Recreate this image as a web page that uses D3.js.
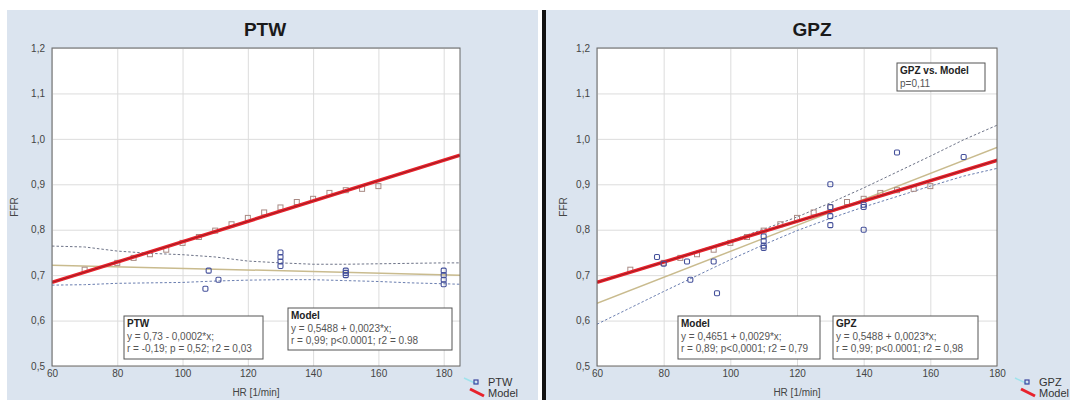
<!DOCTYPE html>
<html>
<head>
<meta charset="utf-8">
<script src="https://cdn.jsdelivr.net/npm/d3@7"></script>
<style>
  body { margin: 0; background: #fff; }
  text { font-family: "Liberation Sans", Arial, sans-serif; }
</style>
</head>
<body>
<div id="svgContainer"></div>
<script>
// model points (same set on both panels)
var modelHR = [70, 80, 85, 90, 95, 100, 105, 110, 115, 120, 125, 130, 135, 140, 145, 150, 155, 160];
var modelFFR = [0.712, 0.727, 0.738, 0.746, 0.756, 0.771, 0.784, 0.798, 0.812, 0.826, 0.838, 0.849, 0.861, 0.868, 0.881, 0.887, 0.890, 0.896];
var modelLineHR = [60, 185];
var modelLineFFR = [0.684, 0.964];

// PTW panel
var ptwHR = [108, 107, 111, 130, 130, 130, 130, 150, 150, 150, 180, 180, 180, 180];
var ptwFFR = [0.71, 0.67, 0.69, 0.72, 0.73, 0.74, 0.75, 0.70, 0.705, 0.71, 0.68, 0.69, 0.70, 0.71];
var ptwFitHR = [60, 185];
var ptwFitFFR = [0.722, 0.700];
var ptwBandHR = [60, 70, 80, 90, 100, 110, 120, 130, 140, 150, 160, 170, 180, 185];
var ptwUpper = [0.764, 0.762, 0.753, 0.748, 0.745, 0.740, 0.731, 0.727, 0.724, 0.724, 0.725, 0.726, 0.727, 0.727];
var ptwLower = [0.678, 0.679, 0.682, 0.683, 0.684, 0.687, 0.689, 0.690, 0.690, 0.688, 0.686, 0.683, 0.681, 0.680];

// GPZ panel
var gpzHR = [78, 80, 87, 88, 95, 96, 110, 110, 110, 110, 130, 130, 130, 130, 140, 140, 140, 150, 170];
var gpzFFR = [0.74, 0.725, 0.73, 0.69, 0.73, 0.66, 0.76, 0.765, 0.775, 0.785, 0.90, 0.85, 0.83, 0.81, 0.85, 0.855, 0.80, 0.97, 0.96];
var gpzFitHR = [60, 180];
var gpzFitFFR = [0.638, 0.981];
var gpzBandHR = [60, 70, 80, 90, 100, 110, 120, 130, 140, 150, 160, 170, 180];
var gpzUpper = [0.686, 0.708, 0.730, 0.753, 0.776, 0.801, 0.828, 0.859, 0.892, 0.927, 0.962, 0.998, 1.030];
var gpzLower = [0.592, 0.628, 0.664, 0.699, 0.734, 0.767, 0.798, 0.825, 0.850, 0.873, 0.896, 0.918, 0.935];

var hrTicks = [60, 80, 100, 120, 140, 160, 180];
var ffrTicks = [0.5, 0.6, 0.7, 0.8, 0.9, 1.0, 1.1, 1.2];

var ptwNotes = [
  ["PTW", "y = 0,73 - 0,0002*x;", "r = -0,19; p = 0,52; r2 = 0,03"],
  ["Model", "y = 0,5488 + 0,0023*x;", "r = 0,99; p<0.0001; r2 = 0.98"]
];
var gpzNotes = [
  ["Model", "y = 0,4651 + 0,0029*x;", "r = 0,89; p<0,0001; r2 = 0,79"],
  ["GPZ", "y = 0,5488 + 0,0023*x;", "r = 0,99; p<0.0001; r2 = 0,98"],
  ["GPZ vs. Model", "p=0,11"]
];

var width = 1070;
var height = 400;
var svg = d3.select("#svgContainer")
  .append("svg").attr("width", width).attr("height", height);

var pl = d3.formatLocale({decimal: ",", thousands: " ", grouping: [3], currency: ["", ""]});
var fmt = pl.format(".1f");

// backgrounds and divider
svg.append("rect").attr("x", 7).attr("y", 10).attr("width", 531).attr("height", 390).attr("fill", "#dbe4ef");
svg.append("rect").attr("x", 546).attr("y", 10).attr("width", 524).attr("height", 390).attr("fill", "#dbe4ef");
svg.append("rect").attr("x", 542).attr("y", 10).attr("width", 4).attr("height", 390).attr("fill", "#111");

drawPanel(svg, {
  id: "p1", title: "PTW", titleX: 265, left: 52, right: 460, xMax: 185, ffrX: 18,
  pts: [ptwHR, ptwFFR], fit: [ptwFitHR, ptwFitFFR],
  band: [ptwBandHR, ptwUpper, ptwLower],
  notes: [{n: ptwNotes[0], x: 124, y: 316, w: 139, h: 43}, {n: ptwNotes[1], x: 288, y: 308, w: 164, h: 42}],
  legendX: 462, legendName: "PTW"
});

drawPanel(svg, {
  id: "p2", title: "GPZ", titleX: 812, left: 597, right: 997, xMax: 180, ffrX: 567,
  pts: [gpzHR, gpzFFR], fit: [gpzFitHR, gpzFitFFR],
  band: [gpzBandHR, gpzUpper, gpzLower],
  notes: [{n: gpzNotes[0], x: 678, y: 316, w: 142, h: 43}, {n: gpzNotes[1], x: 833, y: 316, w: 145, h: 43},
          {n: gpzNotes[2], x: 897, y: 63, w: 88, h: 28}],
  legendX: 1013, legendName: "GPZ"
});

function drawPanel(svg, o) {
  var top = 48, bottom = 366;
  var x = d3.scaleLinear().domain([60, o.xMax]).range([o.left, o.right]);
  var y = d3.scaleLinear().domain([0.5, 1.2]).range([bottom, top]);
  var g = svg.append("g");

  g.append("clipPath").attr("id", "clip" + o.id)
    .append("rect").attr("x", o.left).attr("y", top).attr("width", o.right - o.left).attr("height", bottom - top);

  g.append("rect").attr("x", o.left).attr("y", top).attr("width", o.right - o.left).attr("height", bottom - top)
    .attr("fill", "#fff");

  // grid
  g.append("g").attr("transform", "translate(0," + bottom + ")")
    .call(d3.axisBottom(x).tickValues(hrTicks).tickSize(-(bottom - top)).tickFormat(""))
    .call(function(a) { a.select(".domain").remove(); a.selectAll("line").attr("stroke", "#dcdcdc"); });
  g.append("g").attr("transform", "translate(" + o.left + ",0)")
    .call(d3.axisLeft(y).tickValues(ffrTicks).tickSize(-(o.right - o.left)).tickFormat(""))
    .call(function(a) { a.select(".domain").remove(); a.selectAll("line").attr("stroke", "#dcdcdc"); });

  // tick labels
  g.append("g").attr("transform", "translate(0," + bottom + ")")
    .call(d3.axisBottom(x).tickValues(hrTicks).tickSize(0).tickPadding(4))
    .call(function(a) {
      a.select(".domain").remove();
      a.selectAll("text").attr("fill", "#444").style("font-size", "10px");
    });
  g.append("g").attr("transform", "translate(" + o.left + ",0)")
    .call(d3.axisLeft(y).tickValues(ffrTicks).tickSize(0).tickPadding(7).tickFormat(fmt))
    .call(function(a) {
      a.select(".domain").remove();
      a.selectAll("text").attr("fill", "#444").style("font-size", "10px");
    });

  var plot = g.append("g").attr("clip-path", "url(#clip" + o.id + ")");
  var ln = d3.line().x(function(d) { return x(d[0]); }).y(function(d) { return y(d[1]); });

  // confidence band
  var up = d3.zip(o.band[0], o.band[1]);
  var lo = d3.zip(o.band[0], o.band[2]);
  plot.append("path").attr("d", ln(up)).attr("fill", "none").attr("stroke", "#6e7488")
    .attr("stroke-width", 1).attr("stroke-dasharray", "2.5,2");
  plot.append("path").attr("d", ln(lo)).attr("fill", "none").attr("stroke", "#6a7eb0")
    .attr("stroke-width", 1).attr("stroke-dasharray", "2.5,2");

  // fit line of the measured group
  plot.append("path").attr("d", ln(d3.zip(o.fit[0], o.fit[1]))).attr("fill", "none")
    .attr("stroke", "#c9bb8e").attr("stroke-width", 1.5);

  // model points
  plot.selectAll(".mp").data(d3.zip(modelHR, modelFFR)).enter().append("rect")
    .attr("x", function(d) { return x(d[0]) - 2.5; })
    .attr("y", function(d) { return y(d[1]) - 2.5; })
    .attr("width", 5).attr("height", 5)
    .attr("fill", "none").attr("stroke", "#a88a84").attr("stroke-width", 1);

  // model line
  var ml = ln(d3.zip(modelLineHR, modelLineFFR));
  plot.append("path").attr("d", ml).attr("fill", "none").attr("stroke", "#e8222c").attr("stroke-width", 3.5);
  plot.append("path").attr("d", ml).attr("fill", "none").attr("stroke", "#8a1c20").attr("stroke-width", 0.8);

  // measured points
  plot.selectAll(".gp").data(d3.zip(o.pts[0], o.pts[1])).enter().append("rect")
    .attr("x", function(d) { return x(d[0]) - 2.5; })
    .attr("y", function(d) { return y(d[1]) - 2.5; })
    .attr("width", 5).attr("height", 5).attr("rx", 1.2)
    .attr("fill", "none").attr("stroke", "#44509a").attr("stroke-width", 1.1);

  // border
  g.append("rect").attr("x", o.left).attr("y", top).attr("width", o.right - o.left).attr("height", bottom - top)
    .attr("fill", "none").attr("stroke", "#666").attr("stroke-width", 1);

  // title & axis titles
  g.append("text").attr("x", o.titleX).attr("y", 36).attr("text-anchor", "middle")
    .style("font-size", "19px").style("font-weight", "bold").attr("fill", "#1a1a1a").text(o.title);
  g.append("text").attr("transform", "translate(" + o.ffrX + "," + ((top + bottom) / 2) + ") rotate(-90)")
    .attr("text-anchor", "middle").style("font-size", "10px").attr("fill", "#444").text("FFR");
  g.append("text").attr("x", (o.left + o.right) / 2).attr("y", 396).attr("text-anchor", "middle")
    .style("font-size", "10px").attr("fill", "#444").text("HR [1/min]");

  // notes
  o.notes.forEach(function(b) {
    g.append("rect").attr("x", b.x).attr("y", b.y).attr("width", b.w).attr("height", b.h)
      .attr("fill", "#fff").attr("stroke", "#555").attr("stroke-width", 1);
    b.n.forEach(function(t, i) {
      g.append("text").attr("x", b.x + 3).attr("y", b.y + 11 + i * 12.5)
        .style("font-size", "10px").style("font-weight", i === 0 ? "bold" : "normal")
        .attr("fill", i === 0 ? "#222" : "#555").text(t);
    });
  });

  // legend
  var lx = o.legendX;
  g.append("line").attr("x1", lx + 2).attr("y1", 378).attr("x2", lx + 15).attr("y2", 384)
    .attr("stroke", "#9fe3ec").attr("stroke-width", 1.5);
  g.append("rect").attr("x", lx + 12).attr("y", 380).attr("width", 4).attr("height", 4)
    .attr("fill", "none").attr("stroke", "#3a46a0").attr("stroke-width", 1.2);
  g.append("line").attr("x1", lx + 8).attr("y1", 389).attr("x2", lx + 22).attr("y2", 396)
    .attr("stroke", "#e8222c").attr("stroke-width", 3);
  g.append("text").attr("x", lx + 26).attr("y", 386).style("font-size", "11px").attr("fill", "#333").text(o.legendName);
  g.append("text").attr("x", lx + 26).attr("y", 397).style("font-size", "11px").attr("fill", "#333").text("Model");
}
</script>
</body>
</html>
